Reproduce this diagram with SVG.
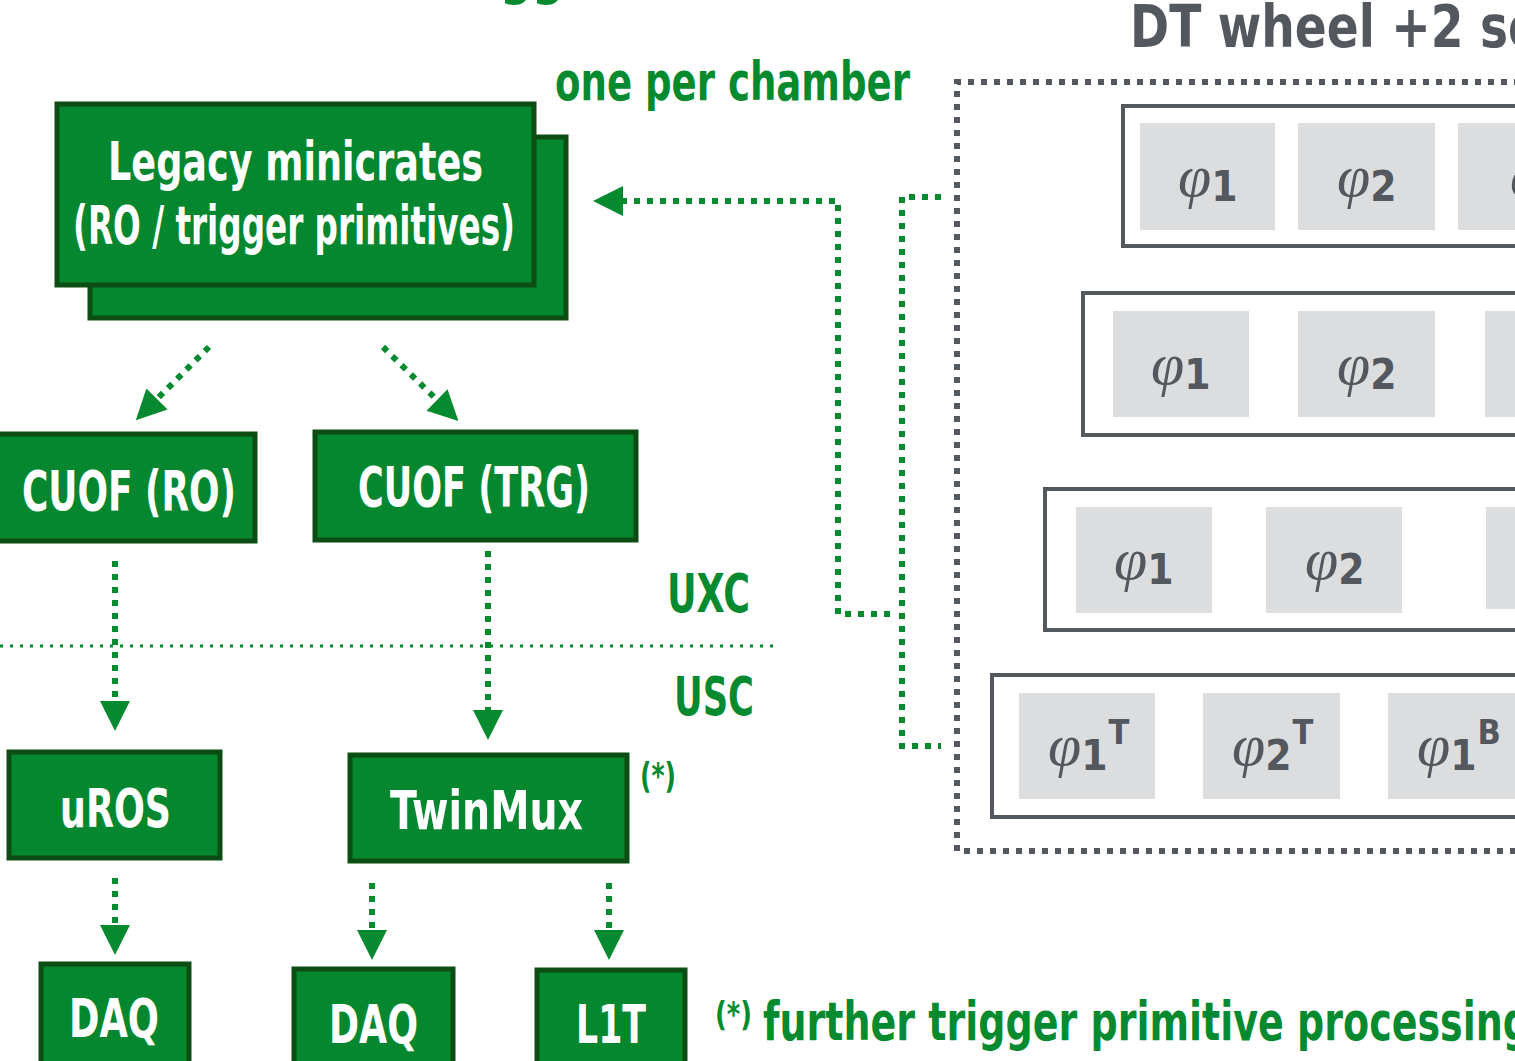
<svg xmlns="http://www.w3.org/2000/svg" width="1515" height="1061" viewBox="0 0 1515 1061">
<defs>
<marker id="ah" markerUnits="userSpaceOnUse" markerWidth="30" markerHeight="30" refX="0" refY="15" orient="auto" overflow="visible">
<path d="M0,0 L30,15 L0,30 z" fill="#058a2f"/>
</marker>
<style>
.t{font-family:"Liberation Sans Narrow","DejaVu Sans Condensed","Liberation Sans",sans-serif;font-weight:bold}
.w{fill:#ffffff}
.g{fill:#058a2f}
.gr{fill:#53575e}
.node{fill:#04872e;stroke:#0b4d13;stroke-width:5}
.conn{fill:none;stroke:#058a2f;stroke-width:6;stroke-dasharray:6 7}
.frame{fill:none;stroke:#53575e;stroke-width:4}
.cell{fill:#dcdddf}
.phi{font-family:"Liberation Serif","DejaVu Serif",serif;font-style:italic;font-size:60px;fill:#53575e}
.num{font-family:"Liberation Sans Narrow","DejaVu Sans Condensed","Liberation Sans",sans-serif;font-weight:bold;font-size:42px;fill:#53575e}
.sup{font-family:"Liberation Sans Narrow","DejaVu Sans Condensed","Liberation Sans",sans-serif;font-weight:bold;font-size:34px;fill:#53575e}
</style>
</defs>
<rect width="1515" height="1061" fill="#ffffff"/>

<!-- titles -->
<text class="t g" x="500" y="-6" font-size="52" textLength="64" lengthAdjust="spacingAndGlyphs">gg</text>
<text class="t gr" x="1130" y="47" font-size="58" textLength="410" lengthAdjust="spacingAndGlyphs">DT wheel +2 se</text>
<text class="t g" x="555" y="100" font-size="54" textLength="355" lengthAdjust="spacingAndGlyphs">one per chamber</text>
<text class="t g" x="667" y="612" font-size="54" textLength="83" lengthAdjust="spacingAndGlyphs">UXC</text>
<text class="t g" x="674" y="715" font-size="54" textLength="80" lengthAdjust="spacingAndGlyphs">USC</text>
<text class="t g" x="640" y="788" font-size="36" textLength="36" lengthAdjust="spacingAndGlyphs">(*)</text>
<text class="t g" x="715" y="1026" font-size="34" textLength="37" lengthAdjust="spacingAndGlyphs">(*)</text>
<text class="t g" x="763" y="1040" font-size="54" textLength="767" lengthAdjust="spacingAndGlyphs">further trigger primitive processing</text>

<!-- UXC / USC separator -->
<line x1="0" y1="646" x2="775" y2="646" stroke="#058a2f" stroke-width="3" stroke-dasharray="3 7"/>

<!-- DT wheel dotted boundary -->
<g id="dt-wheel">
<path d="M1520,82 H957 V851 H1520" fill="none" stroke="#53575e" stroke-width="6" stroke-dasharray="6 7"/>
</g>

<!-- chamber rows -->
<g id="chamber-row-1">
<path class="frame" d="M1520,106 H1123 V246 H1520"/>
<rect class="cell" x="1140" y="123" width="135" height="107"/>
<rect class="cell" x="1298" y="123" width="137" height="107"/>
<rect class="cell" x="1458" y="123" width="137" height="107"/>
<text x="1178" y="196"><tspan class="phi">φ</tspan><tspan class="num" dy="5">1</tspan></text>
<text x="1337" y="196"><tspan class="phi">φ</tspan><tspan class="num" dy="5">2</tspan></text>
<text x="1510" y="196"><tspan class="phi">φ</tspan></text>
</g>
<g id="chamber-row-2">
<path class="frame" d="M1520,293 H1083 V435 H1520"/>
<rect class="cell" x="1113" y="311" width="136" height="106"/>
<rect class="cell" x="1298" y="311" width="137" height="106"/>
<rect class="cell" x="1485" y="311" width="137" height="106"/>
<text x="1151" y="384"><tspan class="phi">φ</tspan><tspan class="num" dy="5">1</tspan></text>
<text x="1337" y="384"><tspan class="phi">φ</tspan><tspan class="num" dy="5">2</tspan></text>
</g>
<g id="chamber-row-3">
<path class="frame" d="M1520,489 H1045 V630 H1520"/>
<rect class="cell" x="1076" y="507" width="136" height="106"/>
<rect class="cell" x="1266" y="507" width="136" height="106"/>
<rect class="cell" x="1486" y="507" width="137" height="102"/>
<text x="1114" y="579"><tspan class="phi">φ</tspan><tspan class="num" dy="5">1</tspan></text>
<text x="1305" y="579"><tspan class="phi">φ</tspan><tspan class="num" dy="5">2</tspan></text>
</g>
<g id="chamber-row-4">
<path class="frame" d="M1520,675 H992 V817 H1520"/>
<rect class="cell" x="1019" y="693" width="136" height="106"/>
<rect class="cell" x="1203" y="693" width="137" height="106"/>
<rect class="cell" x="1388" y="693" width="137" height="106"/>
<text x="1048" y="765"><tspan class="phi">φ</tspan><tspan class="num" dy="5">1</tspan><tspan class="sup" dx="1" dy="-26">T</tspan></text>
<text x="1232" y="765"><tspan class="phi">φ</tspan><tspan class="num" dy="5">2</tspan><tspan class="sup" dx="1" dy="-26">T</tspan></text>
<text x="1417" y="765"><tspan class="phi">φ</tspan><tspan class="num" dy="5">1</tspan><tspan class="sup" dx="1" dy="-26">B</tspan></text>
</g>

<!-- green nodes -->
<g id="legacy-minicrates">
<rect class="node" x="90" y="137" width="476" height="181"/>
<rect class="node" x="57" y="104" width="477" height="181"/>
<text class="t w" x="108" y="180" font-size="54" textLength="375" lengthAdjust="spacingAndGlyphs">Legacy minicrates</text>
<text class="t w" x="73" y="244" font-size="54" textLength="442" lengthAdjust="spacingAndGlyphs">(RO / trigger primitives)</text>
</g>
<g id="cuof-ro">
<rect class="node" x="-5" y="434" width="260" height="107"/>
<text class="t w" x="22" y="510" font-size="56" textLength="214" lengthAdjust="spacingAndGlyphs">CUOF (RO)</text>
</g>
<g id="cuof-trg">
<rect class="node" x="315" y="432" width="321" height="108"/>
<text class="t w" x="358" y="506" font-size="56" textLength="232" lengthAdjust="spacingAndGlyphs">CUOF (TRG)</text>
</g>
<g id="uros">
<rect class="node" x="9" y="752" width="211" height="106"/>
<text class="t w" x="60" y="827" font-size="54" textLength="111" lengthAdjust="spacingAndGlyphs">uROS</text>
</g>
<g id="twinmux">
<rect class="node" x="350" y="755" width="277" height="106"/>
<text class="t w" x="390" y="829" font-size="54" textLength="193" lengthAdjust="spacingAndGlyphs">TwinMux</text>
</g>
<g id="daq-1">
<rect class="node" x="41" y="964" width="148" height="110"/>
<text class="t w" x="69" y="1037" font-size="54" textLength="90" lengthAdjust="spacingAndGlyphs">DAQ</text>
</g>
<g id="daq-2">
<rect class="node" x="294" y="969" width="159" height="110"/>
<text class="t w" x="329" y="1043" font-size="54" textLength="89" lengthAdjust="spacingAndGlyphs">DAQ</text>
</g>
<g id="l1t">
<rect class="node" x="537" y="970" width="148" height="110"/>
<text class="t w" x="576" y="1043" font-size="54" textLength="70" lengthAdjust="spacingAndGlyphs">L1T</text>
</g>

<!-- connectors -->
<g id="connectors">
<path class="conn" d="M209,347 L157,399" marker-end="url(#ah)"/>
<path class="conn" d="M383,347 L437,400" marker-end="url(#ah)"/>
<path class="conn" d="M115,561 L115,701" marker-end="url(#ah)"/>
<path class="conn" d="M488,551 L488,710" marker-end="url(#ah)"/>
<path class="conn" d="M115,878 L115,925" marker-end="url(#ah)"/>
<path class="conn" d="M372,883 L372,930" marker-end="url(#ah)"/>
<path class="conn" d="M609,883 L609,930" marker-end="url(#ah)"/>
<path class="conn" d="M941,197 H902 V746 H941"/>
<path class="conn" d="M890,614 H838 V201 H623" marker-end="url(#ah)"/>
</g>
</svg>
